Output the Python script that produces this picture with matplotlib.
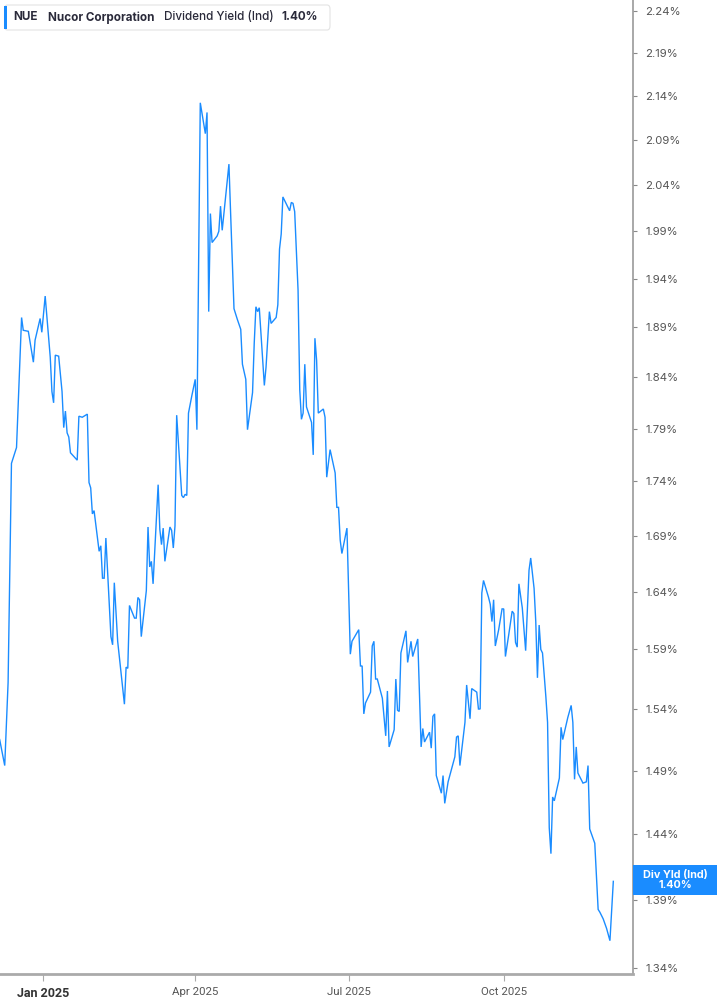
import matplotlib
matplotlib.use("Agg")
import matplotlib.pyplot as plt
import matplotlib.dates as mdates
from matplotlib.patches import FancyBboxPatch, Rectangle
from matplotlib.ticker import FixedLocator, FixedFormatter, NullLocator
import pandas as pd

dates = [
    "2024-12-06", "2024-12-09", "2024-12-11", "2024-12-13", "2024-12-16", "2024-12-19", "2024-12-20",
    "2024-12-23", "2024-12-26", "2024-12-27", "2024-12-30", "2024-12-31", "2025-01-02", "2025-01-05",
    "2025-01-06", "2025-01-07", "2025-01-08", "2025-01-10", "2025-01-12", "2025-01-13", "2025-01-14",
    "2025-01-15", "2025-01-16", "2025-01-17", "2025-01-21", "2025-01-22", "2025-01-24", "2025-01-27",
    "2025-01-28", "2025-01-29", "2025-01-30", "2025-01-31", "2025-02-03", "2025-02-04", "2025-02-05",
    "2025-02-06", "2025-02-07", "2025-02-10", "2025-02-11", "2025-02-12", "2025-02-14", "2025-02-18",
    "2025-02-19", "2025-02-20", "2025-02-21", "2025-02-24", "2025-02-25", "2025-02-26", "2025-02-27",
    "2025-02-28", "2025-03-03", "2025-03-04", "2025-03-05", "2025-03-06", "2025-03-07", "2025-03-10",
    "2025-03-11", "2025-03-12", "2025-03-13", "2025-03-14", "2025-03-17", "2025-03-18", "2025-03-19",
    "2025-03-20", "2025-03-21", "2025-03-24", "2025-03-25", "2025-03-26", "2025-03-27", "2025-03-28",
    "2025-03-30", "2025-04-01", "2025-04-02", "2025-04-04", "2025-04-07", "2025-04-08", "2025-04-09",
    "2025-04-10", "2025-04-11", "2025-04-14", "2025-04-15", "2025-04-16", "2025-04-17", "2025-04-21",
    "2025-04-22", "2025-04-24", "2025-04-26", "2025-04-28", "2025-04-29", "2025-05-01", "2025-05-02",
    "2025-05-05", "2025-05-06", "2025-05-07", "2025-05-08", "2025-05-09", "2025-05-12", "2025-05-13",
    "2025-05-15", "2025-05-16", "2025-05-19", "2025-05-20", "2025-05-21", "2025-05-22", "2025-05-23",
    "2025-05-27", "2025-05-28", "2025-05-29", "2025-05-30", "2025-06-01", "2025-06-02", "2025-06-03",
    "2025-06-04", "2025-06-05", "2025-06-06", "2025-06-09", "2025-06-10", "2025-06-11", "2025-06-12",
    "2025-06-13", "2025-06-16", "2025-06-17", "2025-06-18", "2025-06-20", "2025-06-23", "2025-06-24",
    "2025-06-25", "2025-06-26", "2025-06-27", "2025-06-30", "2025-07-02", "2025-07-03", "2025-07-07",
    "2025-07-08", "2025-07-09", "2025-07-10", "2025-07-11", "2025-07-14", "2025-07-15", "2025-07-16",
    "2025-07-17", "2025-07-18", "2025-07-21", "2025-07-23", "2025-07-24", "2025-07-25", "2025-07-28",
    "2025-07-29", "2025-07-30", "2025-07-31", "2025-08-01", "2025-08-04", "2025-08-05", "2025-08-07",
    "2025-08-08", "2025-08-11", "2025-08-13", "2025-08-14", "2025-08-15", "2025-08-18", "2025-08-19",
    "2025-08-20", "2025-08-21", "2025-08-22", "2025-08-25", "2025-08-26", "2025-08-27", "2025-08-29",
    "2025-09-02", "2025-09-03", "2025-09-04", "2025-09-05", "2025-09-08", "2025-09-09", "2025-09-11",
    "2025-09-12", "2025-09-15", "2025-09-16", "2025-09-17", "2025-09-18", "2025-09-19", "2025-09-22",
    "2025-09-23", "2025-09-24", "2025-09-25", "2025-09-26", "2025-09-28", "2025-09-30", "2025-10-01",
    "2025-10-02", "2025-10-04", "2025-10-06", "2025-10-07", "2025-10-08", "2025-10-09", "2025-10-10",
    "2025-10-12", "2025-10-14", "2025-10-16", "2025-10-17", "2025-10-19", "2025-10-20", "2025-10-21",
    "2025-10-22", "2025-10-23", "2025-10-24", "2025-10-26", "2025-10-27", "2025-10-28", "2025-10-29",
    "2025-10-30", "2025-10-31", "2025-11-03", "2025-11-04", "2025-11-05", "2025-11-06", "2025-11-08",
    "2025-11-10", "2025-11-11", "2025-11-12", "2025-11-13", "2025-11-14", "2025-11-17", "2025-11-19",
    "2025-11-20", "2025-11-21", "2025-11-24", "2025-11-26", "2025-11-27", "2025-11-29", "2025-12-01",
    "2025-12-03", "2025-12-05",
]

div_yield = [
    1.515, 1.494, 1.562, 1.757, 1.772, 1.900, 1.887, 1.886, 1.855, 1.877, 1.899, 1.885, 1.922, 1.860,
    1.826, 1.815, 1.862, 1.861, 1.826, 1.791, 1.807, 1.786, 1.782, 1.767, 1.760, 1.802, 1.801, 1.804,
    1.739, 1.734, 1.710, 1.713, 1.676, 1.681, 1.652, 1.652, 1.688, 1.601, 1.594, 1.648, 1.597, 1.544,
    1.575, 1.574, 1.628, 1.617, 1.617, 1.635, 1.633, 1.601, 1.641, 1.698, 1.662, 1.667, 1.647, 1.737,
    1.696, 1.682, 1.697, 1.667, 1.698, 1.695, 1.679, 1.699, 1.803, 1.727, 1.725, 1.728, 1.727, 1.805,
    1.822, 1.838, 1.789, 2.132, 2.097, 2.121, 1.906, 2.009, 1.978, 1.985, 1.990, 2.017, 1.991, 2.063,
    2.009, 1.909, 1.898, 1.888, 1.853, 1.838, 1.789, 1.825, 1.874, 1.911, 1.906, 1.910, 1.832, 1.850,
    1.906, 1.894, 1.900, 1.913, 1.971, 1.987, 2.027, 2.012, 2.021, 2.020, 2.011, 1.928, 1.828, 1.799,
    1.805, 1.853, 1.811, 1.796, 1.765, 1.879, 1.857, 1.805, 1.809, 1.801, 1.744, 1.770, 1.748, 1.716,
    1.716, 1.686, 1.674, 1.697, 1.586, 1.597, 1.607, 1.576, 1.576, 1.536, 1.545, 1.554, 1.593, 1.597,
    1.565, 1.565, 1.549, 1.518, 1.555, 1.509, 1.523, 1.565, 1.539, 1.538, 1.587, 1.606, 1.579, 1.597,
    1.584, 1.599, 1.509, 1.524, 1.513, 1.521, 1.508, 1.534, 1.536, 1.486, 1.472, 1.486, 1.464, 1.481,
    1.501, 1.517, 1.518, 1.494, 1.529, 1.560, 1.532, 1.557, 1.554, 1.540, 1.540, 1.639, 1.650, 1.635,
    1.629, 1.614, 1.633, 1.593, 1.607, 1.625, 1.625, 1.584, 1.603, 1.623, 1.621, 1.596, 1.592, 1.647,
    1.626, 1.589, 1.659, 1.670, 1.643, 1.614, 1.566, 1.611, 1.590, 1.587, 1.550, 1.529, 1.445, 1.425,
    1.469, 1.466, 1.484, 1.525, 1.515, 1.521, 1.533, 1.543, 1.529, 1.483, 1.509, 1.488, 1.480, 1.481,
    1.494, 1.444, 1.433, 1.383, 1.381, 1.376, 1.369, 1.360, 1.404,
]

y_ticks = [1.34, 1.39, 1.44, 1.49, 1.54, 1.59, 1.64, 1.69, 1.74, 1.79, 1.84, 1.89, 1.94, 1.99,
           2.04, 2.09, 2.14, 2.19, 2.24]
x_tick_dates = ["2025-01-01", "2025-04-01", "2025-07-01", "2025-10-01"]
x_tick_labels = ["Jan 2025", "Apr 2025", "Jul 2025", "Oct 2025"]
title_parts = ["NUE", "Nucor Corporation", "Dividend Yield (Ind)", "1.40%"]
last_label = "Div Yld (Ind)\n1.40%"

W, H = 717, 1005
BLUE = "#1a8cff"
FONT = ["Inter", "DejaVu Sans"]
plt.rcParams["font.family"] = FONT

fig = plt.figure(figsize=(W / 100, H / 100), dpi=100)
ax_right = 632.7
ax_bottom = 974
ax = fig.add_axes([0, 1 - ax_bottom / H, ax_right / W, ax_bottom / H])

x = pd.to_datetime(dates)
ax.plot(x, div_yield, color=BLUE, lw=1.0, solid_joinstyle="miter")

ax.set_yscale("log")
ax.set_ylim(1.33591, 2.2529)
jan1 = mdates.date2num(pd.Timestamp("2025-01-01"))
ax.set_xlim(jan1 - 25.8, jan1 + 349.5)

for s in ["top", "left"]:
    ax.spines[s].set_visible(False)
ax.spines["bottom"].set_color("#aaaaaa")
ax.spines["bottom"].set_linewidth(2.0)
ax.spines["right"].set_color("#999999")
ax.spines["right"].set_linewidth(1.2)

ax.yaxis.tick_right()
ax.yaxis.set_major_locator(FixedLocator(y_ticks))
ax.yaxis.set_major_formatter(FixedFormatter([f"{v:.2f}%" for v in y_ticks]))
ax.yaxis.set_minor_locator(NullLocator())
ax.tick_params(axis="y", which="major", length=3, width=0.8, color="#888888",
               labelsize=8.2, labelcolor="#555555", pad=6)

ax.xaxis.set_major_locator(FixedLocator(mdates.date2num(pd.to_datetime(x_tick_dates))))
ax.xaxis.set_major_formatter(FixedFormatter(x_tick_labels))
ax.xaxis.set_minor_locator(NullLocator())
ax.tick_params(axis="x", which="major", length=5, width=0.8, color="#aaaaaa",
               labelsize=8.2, labelcolor="#555555", pad=4)
for lab in ax.get_xticklabels():
    lab.set_family(["Roboto", "DejaVu Sans"])
    if lab.get_text().startswith("Jan"):
        lab.set_fontweight("bold")
        lab.set_color("#333333")
        lab.set_fontsize(9.0)

ax.grid(False)
ax.set_facecolor("white")


def fx(px):
    return px / W


def fy(py):
    return 1 - py / H


# title box
box = FancyBboxPatch((fx(4.5), fy(30)), fx(330) - fx(4.5), fy(5) - fy(30),
                     boxstyle="round,pad=0,rounding_size=0.004", transform=fig.transFigure,
                     facecolor="white", edgecolor="#e3e3e3", lw=0.8, zorder=5)
fig.patches.append(box)
fig.patches.append(Rectangle((fx(4), fy(29)), fx(3), fy(6) - fy(29), transform=fig.transFigure,
                             facecolor=BLUE, edgecolor="none", zorder=6))
title_x = [13.3, 47.7, 164.0, 281.7]
weights = ["bold", "bold", "medium", "bold"]
for txt, px, wt in zip(title_parts, title_x, weights):
    fig.text(fx(px), fy(17.5), txt, fontsize=8.4, fontweight=wt, color="#2a2a3a",
             ha="left", va="center", zorder=7)

# last value label
fig.patches.append(Rectangle((fx(633), fy(895)), fx(717) - fx(633), fy(865) - fy(895),
                             transform=fig.transFigure, facecolor=BLUE, edgecolor="none", zorder=6))
fig.text(fx(675), fy(880), last_label, fontsize=7.8, fontweight="bold", color="white",
         ha="center", va="center", linespacing=0.95, zorder=7)

fig.savefig("out.png", dpi=100, facecolor="white")
